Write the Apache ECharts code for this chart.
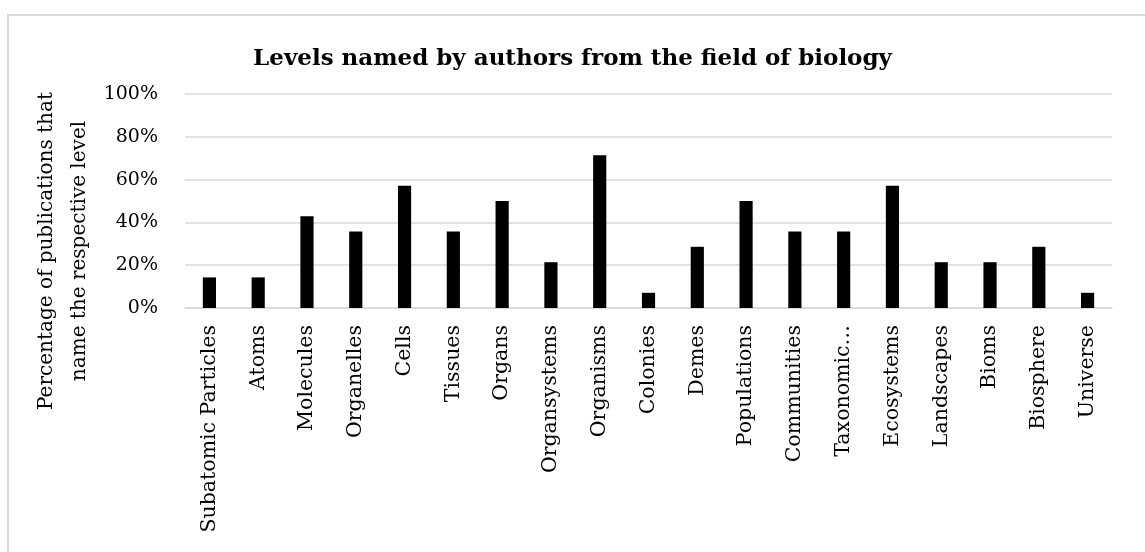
<!DOCTYPE html>
<html>
<head>
<meta charset="utf-8">
<script src="https://cdn.jsdelivr.net/npm/echarts@6/dist/echarts.min.js"></script>
<style>
  html, body { margin: 0; padding: 0; background: #fff; }
  #chart { width: 1145px; height: 552px; }
</style>
</head>
<body>
<div id="chart"></div>
<script>
// categories along the x axis
const levels = [
  'Subatomic Particles', 'Atoms', 'Molecules', 'Organelles', 'Cells', 'Tissues',
  'Organs', 'Organsystems', 'Organisms', 'Colonies', 'Demes', 'Populations',
  'Communities', 'Taxonomic…', 'Ecosystems', 'Landscapes', 'Bioms', 'Biosphere', 'Universe'
];
// share of publications naming each level (%)
const shares = [
  14.3, 14.3, 42.9, 35.7, 57.1, 35.7,
  50.0, 21.4, 71.4, 7.1, 28.6, 50.0,
  35.7, 35.7, 57.1, 21.4, 21.4, 28.6, 7.1
];
const yTicks = [0, 20, 40, 60, 80, 100];

const serif = '"DejaVu Serif", "Liberation Serif", serif';
const gridColor = '#d9d9d9';

const chart = echarts.init(document.getElementById('chart'));

const option = {
  animation: false,
  backgroundColor: '#fff',
  title: {
    text: 'Levels named by authors from the field of biology',
    left: 'center',
    top: 43,
    textStyle: { fontFamily: serif, fontSize: 23, fontWeight: 'bold', color: '#000' }
  },
  grid: { left: 185, right: 33, top: 94, bottom: 244 },
  xAxis: {
    type: 'category',
    data: levels,
    axisLine: { lineStyle: { color: gridColor, width: 1.5 } },
    axisTick: { show: false },
    axisLabel: {
      rotate: 90,
      interval: 0,
      margin: 17,
      fontFamily: serif,
      fontSize: 20.5,
      color: '#000'
    }
  },
  yAxis: {
    type: 'value',
    min: yTicks[0],
    max: yTicks[yTicks.length - 1],
    interval: 20,
    axisLine: { show: false },
    axisTick: { show: false },
    splitLine: { lineStyle: { color: gridColor, width: 1.5 } },
    axisLabel: {
      margin: 27,
      formatter: '{value}%',
      fontFamily: serif,
      fontSize: 19,
      color: '#000'
    }
  },
  graphic: [
    {
      type: 'rect',
      shape: { x: 8, y: 15, width: 1300, height: 700 },
      style: { fill: 'none', stroke: gridColor, lineWidth: 2 },
      silent: true
    },
    {
      type: 'text',
      x: 63,
      y: 251,
      rotation: Math.PI / 2,
      style: {
        text: 'Percentage of publications that\nname the respective level',
        fontFamily: serif,
        fontSize: 20,
        lineHeight: 33,
        fill: '#000',
        align: 'center',
        verticalAlign: 'middle'
      }
    }
  ],
  series: [
    {
      type: 'bar',
      data: shares,
      barWidth: '27%',
      itemStyle: { color: '#000' }
    }
  ]
};

chart.setOption(option);
</script>
</body>
</html>
